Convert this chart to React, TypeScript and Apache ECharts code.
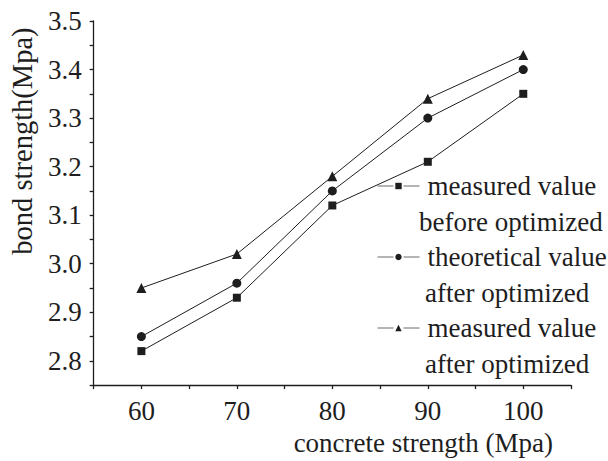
import React, { useEffect, useRef } from "react";
import * as echarts from "echarts";

const concreteStrength = [60, 70, 80, 90, 100];
const measuredBefore = [2.82, 2.93, 3.12, 3.21, 3.35];
const theoreticalAfter = [2.85, 2.96, 3.15, 3.3, 3.4];
const measuredAfter = [2.95, 3.02, 3.18, 3.34, 3.43];
const legendFirstLines = ["measured value", "theoretical value", "measured value"];
const legendSecondLines = ["before optimized", "after optimized", "after optimized"];
const symbols = ["rect", "circle", "triangle"];
const xTitle = "concrete strength (Mpa)";
const yTitle = "bond strength(Mpa)";

const FONT = "Liberation Serif";
const INK = "#1e1e1e";

export default function App() {
  const ref = useRef<HTMLDivElement>(null);
  useEffect(() => {
    if (!ref.current) return;
    const chart = echarts.init(ref.current, undefined, { renderer: "svg" });
    const all = [measuredBefore, theoreticalAfter, measuredAfter];
    const sizes = [8, 9, 10];
    const names = legendFirstLines.map((a, i) => a + "\n" + legendSecondLines[i]);
    const legendTop = 186;
    const legendStep = 71;
    const secondX = [419, 425, 425];
    chart.setOption({
      animation: false,
      backgroundColor: "#ffffff",
      textStyle: { fontFamily: FONT, color: INK },
      grid: { left: 89, right: 37, top: 21, bottom: 72, containLabel: false },
      legend: {
        orient: "vertical",
        left: 377,
        top: legendTop - 18,
        padding: 0,
        itemGap: legendStep - 36,
        itemWidth: 42,
        itemHeight: 8,
        selectedMode: false,
        data: names,
        formatter: (n: string) => n.split("\n")[0],
        lineStyle: { color: "#6a6a6a", width: 1, type: [16, 10] },
        textStyle: {
          fontFamily: FONT,
          fontSize: 27,
          color: INK,
          lineHeight: 36,
          padding: [0, 0, 0, 3],
        },
      },
      graphic: legendSecondLines.map((t, i) => ({
        type: "text",
        left: secondX[i],
        top: legendTop + 36 + i * legendStep - 18,
        silent: true,
        style: {
          text: t,
          fontFamily: FONT,
          fontSize: 27,
          lineHeight: 36,
          fill: INK,
        },
      })),
      xAxis: {
        type: "value",
        min: 55,
        max: 105,
        interval: 5,
        name: xTitle,
        nameLocation: "middle",
        nameGap: 24,
        nameTextStyle: {
          fontFamily: FONT,
          fontSize: 27,
          color: INK,
          padding: [0, 0, 0, 182],
        },
        axisLine: { lineStyle: { color: INK, width: 1.3 } },
        axisTick: { inside: false, length: 4, lineStyle: { color: INK, width: 1.3 } },
        splitLine: { show: false },
        axisLabel: {
          margin: 12,
          fontFamily: FONT,
          fontSize: 27,
          color: INK,
          formatter: (v: number) => (Math.round(v) % 10 === 0 ? String(Math.round(v)) : ""),
        },
      },
      yAxis: {
        type: "value",
        min: 2.75,
        max: 3.5,
        interval: 0.05,
        name: yTitle,
        nameLocation: "middle",
        nameGap: 55,
        nameTextStyle: {
          fontFamily: FONT,
          fontSize: 28.5,
          color: INK,
          padding: [0, 0, 0, 124],
        },
        axisLine: { show: true, lineStyle: { color: INK, width: 1.3 } },
        axisTick: { show: true, inside: false, length: 4, lineStyle: { color: INK, width: 1.3 } },
        splitLine: { show: false },
        axisLabel: {
          margin: 12,
          fontFamily: FONT,
          fontSize: 27,
          color: INK,
          formatter: (v: number) =>
            Math.round(v * 20) % 2 === 0 ? v.toFixed(1) : "",
        },
      },
      series: all.map((vals, i) => ({
        name: names[i],
        type: "line",
        data: concreteStrength.map((x, j) => [x, vals[j]]),
        symbol: symbols[i],
        symbolSize: sizes[i],
        showSymbol: true,
        lineStyle: { color: INK, width: 1 },
        itemStyle: { color: INK },
      })),
    });
    return () => chart.dispose();
  }, []);
  return (
    <div
      ref={ref}
      style={{ position: "absolute", left: 0, top: 0, width: 608, height: 461 }}
    />
  );
}
